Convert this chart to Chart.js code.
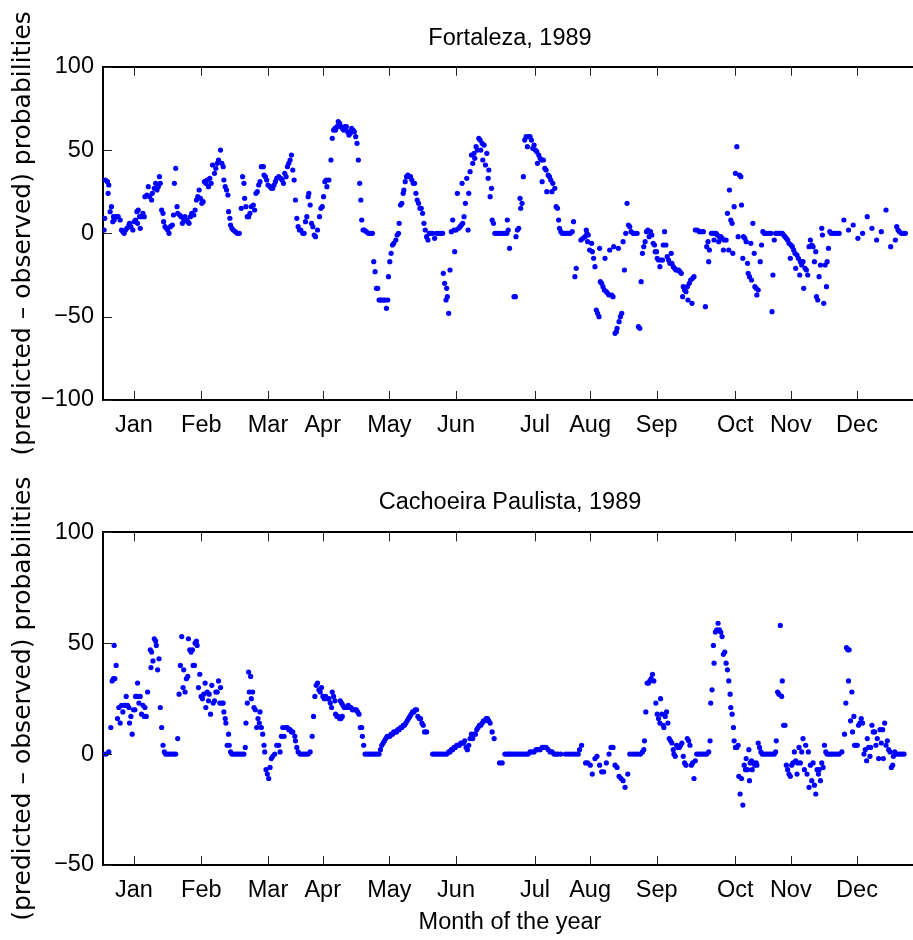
<!DOCTYPE html>
<html>
<head>
<meta charset="utf-8">
<title>Predicted - observed probabilities, 1989</title>
<script src="https://cdn.jsdelivr.net/npm/chart.js@4.4.1/dist/chart.umd.min.js"></script>
<style>
  html, body { margin: 0; padding: 0; background: #fff; overflow: hidden; }
  #wrap { position: relative; width: 913px; height: 940px; overflow: hidden; }
  canvas { position: absolute; left: 0; }
</style>
</head>
<body>
<div id="wrap">
  <canvas id="fortChart" width="930" height="460" style="top:0px;width:930px;height:460px"></canvas>
  <canvas id="cachChart" width="930" height="480" style="top:460px;width:930px;height:480px"></canvas>
</div>
<script>
// month tick positions (day index along the axis) and their labels
const monthPos = [13.9, 44.1, 74.0, 98.5, 128.4, 158.3, 193.7, 218.4, 248.3, 283.5, 308.4, 338.1];
const monthNames = ['Jan', 'Feb', 'Mar', 'Apr', 'May', 'Jun', 'Jul', 'Aug', 'Sep', 'Oct', 'Nov', 'Dec'];

const fortTicks = [-100, -50, 0, 50, 100];
const cachTicks = [-50, 0, 50, 100];

// Fortaleza, 1989: day index / (predicted - observed) probability
const fortDay = [
  0.5, 0.8, 1.1, 2.0, 2.3, 2.6, 3.2, 3.8, 4.4, 4.7,
  5.0, 5.9, 6.8, 7.7, 8.3, 8.9, 9.5, 10.1, 10.7, 11.6,
  11.9, 12.5, 13.4, 14.0, 14.6, 15.2, 15.5, 15.8, 16.4, 16.7,
  17.3, 17.9, 18.5, 18.8, 19.7, 20.3, 20.9, 21.8, 22.1, 23.0,
  23.6, 24.2, 24.8, 25.3, 25.7, 26.3, 26.9, 27.2, 27.8, 28.4,
  29.0, 29.6, 30.2, 31.1, 31.6, 32.0, 32.6, 33.2, 33.5, 34.4,
  35.0, 35.6, 36.2, 36.8, 37.4, 38.0, 38.6, 39.2, 39.8, 40.7,
  41.3, 41.9, 42.5, 43.1, 43.7, 44.3, 44.9, 45.5, 46.1, 46.7,
  47.3, 47.9, 48.5, 49.1, 50.0, 50.6, 51.2, 51.8, 52.7, 53.3,
  53.9, 54.2, 54.8, 55.4, 56.0, 56.3, 56.9, 57.2, 57.8, 58.4,
  59.3, 60.2, 61.1, 62.0, 62.6, 63.2, 63.5, 64.1, 64.7, 65.3,
  65.9, 66.5, 67.4, 68.0, 68.6, 69.2, 69.8, 70.4, 71.0, 71.9,
  72.2, 72.8, 73.4, 74.0, 74.9, 75.5, 76.1, 76.7, 77.3, 77.9,
  78.8, 79.7, 80.3, 80.9, 81.5, 82.1, 82.7, 83.3, 83.9, 84.5,
  85.1, 85.7, 86.3, 86.9, 87.5, 88.1, 88.7, 89.6, 90.2, 90.8,
  91.4, 92.0, 92.3, 92.9, 93.5, 94.1, 94.7, 95.3, 96.2, 97.1,
  97.7, 98.3, 98.9, 99.5, 100.1, 100.4, 101.3, 102.2, 102.8, 103.4,
  104.0, 104.3, 104.9, 105.5, 106.1, 106.7, 107.3, 107.9, 108.5, 109.1,
  109.7, 110.3, 110.9, 111.5, 112.1, 112.7, 113.3, 113.9, 114.5, 115.1,
  115.6, 116.0, 116.6, 117.2, 118.1, 119.0, 119.9, 120.8, 121.4, 122.0,
  122.6, 123.2, 123.8, 124.4, 125.0, 125.9, 126.5, 127.1, 127.7, 128.0,
  128.6, 129.2, 129.8, 130.4, 131.3, 131.9, 132.5, 132.8, 133.4, 134.0,
  134.6, 134.9, 135.5, 136.1, 136.7, 137.3, 137.9, 138.5, 139.1, 139.7,
  140.3, 140.9, 141.5, 142.1, 142.7, 143.3, 143.9, 144.5, 145.1, 145.7,
  146.3, 146.9, 147.8, 148.7, 149.6, 150.5, 151.4, 152.3, 152.6, 153.2,
  153.8, 154.1, 154.4, 155.0, 155.6, 156.2, 156.8, 157.4, 157.7, 158.3,
  158.9, 159.5, 160.1, 160.7, 161.0, 161.3, 161.9, 162.5, 163.1, 163.7,
  164.0, 164.6, 165.2, 165.8, 166.4, 166.7, 167.3, 167.9, 168.5, 169.1,
  169.4, 170.0, 170.3, 170.9, 171.5, 172.1, 172.7, 173.0, 173.6, 174.2,
  174.5, 175.1, 175.7, 176.6, 177.5, 178.4, 179.3, 180.2, 181.1, 181.7,
  181.3, 182.3, 184.3, 184.9, 185.2, 185.8, 186.4, 187.0, 187.3, 187.9,
  188.5, 189.1, 189.7, 190.3, 190.9, 191.5, 192.1, 192.7, 193.3, 193.9,
  194.5, 194.8, 195.4, 196.0, 196.6, 196.9, 197.5, 198.1, 198.7, 199.0,
  199.6, 200.2, 200.8, 201.3, 201.7, 202.6, 203.2, 203.8, 204.3, 204.7,
  205.3, 205.9, 206.8, 207.7, 208.6, 209.5, 210.4, 211.0, 211.6, 212.2,
  214.3, 215.2, 216.1, 216.7, 217.0, 217.3, 217.6, 218.2, 219.1, 219.4,
  220.0, 220.6, 221.2, 221.8, 222.4, 222.7, 223.0, 223.6, 224.2, 224.8,
  225.1, 225.7, 226.3, 226.9, 227.2, 228.1, 228.7, 229.0, 229.6, 230.2,
  230.5, 231.1, 231.4, 232.0, 232.6, 233.2, 233.8, 234.4, 235.0, 235.6,
  236.2, 236.8, 237.7, 238.6, 239.5, 240.1, 240.7, 241.3, 241.9, 242.5,
  243.1, 243.7, 244.3, 244.9, 245.5, 246.1, 246.7, 247.3, 247.6, 248.2,
  248.5, 249.1, 249.7, 250.3, 250.9, 251.2, 251.8, 252.4, 253.0, 253.6,
  254.2, 254.8, 255.1, 255.7, 256.3, 256.9, 257.5, 258.1, 258.7, 259.3,
  259.9, 260.2, 260.8, 261.4, 262.0, 262.3, 262.9, 263.5, 264.1, 264.4,
  265.0, 265.6, 266.5, 267.4, 268.3, 269.2, 270.1, 270.7, 271.3, 271.6,
  271.9, 272.8, 273.4, 274.0, 274.3, 274.9, 275.5, 276.1, 276.4, 277.0,
  277.6, 278.2, 278.5, 279.4, 280.0, 280.6, 280.9, 281.5, 282.1, 282.4,
  283.0, 283.6, 284.2, 284.8, 285.4, 286.0, 286.3, 286.9, 287.2, 287.8,
  288.4, 289.0, 289.3, 289.9, 290.5, 290.8, 291.4, 292.0, 292.3, 292.9,
  293.2, 293.8, 294.7, 295.3, 295.9, 296.5, 297.1, 297.7, 298.6, 299.5,
  300.0, 300.4, 301.0, 301.6, 302.2, 302.8, 303.4, 304.0, 304.6, 305.2,
  305.8, 306.4, 307.0, 307.6, 308.2, 308.5, 309.1, 309.7, 310.3, 310.6,
  311.2, 311.8, 312.4, 312.7, 313.3, 313.9, 314.2, 314.8, 315.4, 316.0,
  316.6, 317.2, 317.8, 318.4, 319.0, 319.6, 319.9, 320.5, 321.1, 321.7,
  322.3, 322.6, 323.2, 323.8, 324.4, 324.7, 325.3, 325.9, 326.5, 327.4,
  328.3, 329.2, 330.1, 332.2, 334.3, 336.4, 338.5, 340.6, 342.7, 344.8,
  346.9, 349.0, 351.1, 353.2, 355.3, 355.9, 356.5, 357.1, 358.0, 358.9,
  359.8
];
const fortDiff = [
  2, 9, 32, 31, 24, 29, 13, 16, 7, 10,
  8, 10, 10, 8, 2, 1, 0, 2, 3, 5,
  6, 4, 2, 7, 8, 13, 6, 14, 10, 3,
  10, 12, 10, 22, 23, 28, 22, 20, 24, 27,
  30, 26, 28, 34, 30, 14, 12, 7, 4, 3,
  2, 0, 4, 5, 11, 30, 39, 16, 12, 11,
  10, 6, 8, 10, 8, 7, 6, 10, 12, 11,
  14, 20, 22, 26, 21, 18, 19, 31, 30, 32,
  28, 33, 30, 41, 36, 39, 42, 44, 50, 42,
  40, 32, 28, 26, 23, 13, 9, 5, 3, 2,
  1, 0, 0, 15, 34, 30, 21, 16, 10, 10,
  12, 16, 17, 14, 24, 25, 29, 31, 40, 40,
  35, 34, 32, 29, 28, 27, 27, 29, 31, 33,
  34, 33, 32, 30, 36, 34, 40, 42, 44, 47,
  38, 32, 20, 9, 4, 2, 2, 0, 0, 7,
  10, 22, 24, 17, 6, 4, -1, -2, 2, 10,
  15, 16, 22, 31, 32, 28, 32, 44, 57, 62,
  63, 62, 64, 67, 66, 64, 63, 62, 64, 64,
  61, 59, 60, 63, 62, 61, 58, 54, 44, 30,
  20, 8, 2, 2, 1, 0, 0, 0, -17, -23,
  -33, -33, -40, -40, -40, -40, -40, -45, -40, -26,
  -17, -12, -7, -6, -4, -1, 0, 6, 17, 18,
  24, 26, 31, 34, 35, 34, 34, 32, 30, 30,
  24, 20, 18, 15, 15, 12, 6, 2, -2, -4,
  0, 0, 0, -3, 0, 0, 0, 0, -24, -30,
  -40, -33, -38, -48, -22, 1, 8, 2, -11, 2,
  24, 3, 4, 5, 30, 6, 10, 18, 33, 2,
  24, 37, 47, 42, 48, 45, 52, 50, 57, 56,
  50, 54, 44, 53, 41, 48, 33, 38, 22, 27,
  8, 6, 0, 0, 0, 0, 0, 0, 0, 2,
  8, -9, -38, -38, -2, 2, 3, 21, 15, 18,
  34, 56, 58, 52, 58, 58, 56, 51, 53, 50,
  49, 42, 47, 45, 44, 31, 44, 39, 38, 25,
  35, 34, 32, 25, 30, 27, 16, 15, 8, 3,
  1, 0, 0, 0, 0, 0, 1, 7, -26, -21,
  -4, -3, -2, 2, 0, -5, -1, -10, -6, -11,
  -15, -20, -46, -48, -50, -9, -29, -30, -32, -34,
  -15, -35, -36, -37, -10, -37, -38, -8, -60, -59,
  -57, -9, -53, -50, -48, -5, -22, 0, 18, 5,
  4, 1, 0, 0, 0, -56, -57, -29, -12, -8,
  -5, 1, 2, -2, 1, -1, -6, -7, -11, -11,
  -15, -16, -20, -16, -16, -7, 1, -7, -14, -16,
  -18, -12, -18, -20, -21, -22, -22, -22, -23, -24,
  -38, -32, -34, -35, -32, -40, -30, -28, -42, -27,
  -26, 2, 2, 1, 1, 1, -44, -8, -5, -17,
  -10, 0, 0, -4, 0, 0, -1, -5, -2, -2,
  -3, -10, -4, -4, 12, -10, 26, 8, 6, -12,
  16, 36, 52, -2, 35, 34, 17, -15, -2, -3,
  -5, -18, -24, -26, -6, -28, 6, -12, -32, -33,
  -37, -34, -17, -7, 1, 0, 0, 0, 0, 0,
  -47, -25, -4, 0, 0, 0, 0, 0, 0, -1,
  -2, -3, -4, -6, -15, -7, -8, -10, -12, -21,
  -13, -15, -25, -17, -19, -17, -33, -21, -22, -25,
  -8, -4, -7, -8, -17, -11, -38, -40, -26, -19,
  3, -1, -42, -19, -32, -17, -9, 1, 0, 0,
  0, 0, 0, 8, 2, 5, -3, 0, 10, 3,
  -4, 1, 14, -8, -4, 4, 2, 1, 0, 0,
  0
];

// Cachoeira Paulista, 1989: day index / (predicted - observed) probability
const cachDay = [
  0.2, 1.4, 2.6, 3.5, 4.1, 4.7, 5.0, 5.3, 5.9, 6.5,
  7.1, 7.7, 8.3, 8.9, 9.5, 10.1, 10.4, 11.0, 11.6, 11.9,
  12.5, 13.1, 13.7, 14.3, 14.6, 15.2, 15.5, 16.1, 16.7, 17.3,
  17.9, 18.5, 18.8, 19.4, 20.0, 21.2, 21.5, 21.8, 22.4, 23.0,
  23.6, 23.9, 24.5, 25.1, 25.7, 26.3, 26.9, 27.5, 28.1, 29.0,
  29.9, 30.8, 31.7, 32.6, 33.5, 34.1, 34.7, 35.3, 35.9, 36.2,
  36.8, 37.4, 38.0, 38.3, 38.9, 39.5, 40.1, 40.4, 41.0, 41.3,
  41.9, 42.2, 42.8, 43.4, 44.0, 44.6, 45.2, 45.8, 46.1, 46.7,
  47.3, 47.6, 48.2, 48.8, 49.4, 50.0, 50.6, 51.2, 51.8, 52.4,
  52.7, 53.3, 53.9, 54.2, 54.8, 55.1, 55.7, 56.3, 56.6, 57.2,
  57.8, 58.7, 59.6, 60.5, 61.4, 62.3, 63.2, 63.8, 64.1, 64.7,
  65.3, 65.6, 66.2, 66.5, 67.1, 67.7, 68.3, 68.9, 69.5, 70.1,
  70.4, 71.0, 71.6, 72.2, 72.5, 73.1, 73.7, 74.3, 74.9, 75.5,
  76.1, 77.0, 77.9, 78.8, 79.4, 80.0, 80.6, 81.2, 81.8, 82.7,
  83.3, 83.9, 84.5, 85.1, 86.0, 86.3, 86.9, 87.5, 88.4, 89.3,
  90.2, 91.1, 92.0, 92.9, 93.8, 94.4, 95.0, 95.6, 96.2, 96.8,
  97.4, 98.0, 98.6, 99.2, 99.8, 100.4, 101.3, 101.9, 102.5, 102.8,
  103.4, 104.0, 104.3, 104.9, 105.5, 106.1, 106.4, 106.7, 107.0, 107.3,
  107.6, 108.2, 108.8, 109.4, 110.0, 110.6, 111.2, 111.8, 112.4, 113.0,
  113.6, 114.2, 114.8, 115.4, 116.0, 116.3, 116.9, 117.5, 118.4, 119.3,
  120.2, 121.1, 122.0, 122.9, 123.8, 124.4, 125.0, 125.6, 126.2, 126.8,
  127.4, 128.0, 128.6, 129.2, 129.8, 130.4, 131.0, 131.6, 132.2, 132.8,
  133.4, 134.0, 134.6, 135.2, 135.8, 136.4, 137.0, 137.6, 138.2, 138.8,
  139.4, 140.0, 140.6, 141.2, 141.8, 142.4, 143.0, 143.6, 144.2, 145.1,
  147.8, 148.7, 149.6, 150.5, 151.4, 152.3, 153.2, 154.1, 155.0, 155.6,
  156.2, 156.8, 157.4, 158.0, 158.6, 159.2, 159.8, 160.4, 161.0, 161.6,
  162.2, 162.8, 163.4, 164.0, 164.6, 165.2, 165.8, 166.4, 167.0, 167.6,
  168.2, 168.8, 169.4, 170.0, 170.6, 171.2, 171.8, 172.4, 173.0, 173.6,
  174.5, 175.4, 177.8, 179.0, 180.2, 181.1, 182.0, 182.5, 183.4, 184.3,
  185.2, 186.1, 187.0, 187.9, 188.8, 189.7, 190.6, 191.5, 192.4, 193.3,
  194.2, 195.1, 196.0, 196.9, 197.8, 198.7, 199.6, 200.5, 201.4, 202.3,
  203.2, 204.1, 205.3, 207.4, 208.6, 209.8, 211.0, 212.2, 213.1, 213.7,
  214.6, 216.4, 217.3, 218.5, 219.4, 220.6, 221.5, 222.7, 223.6, 224.5,
  225.7, 226.9, 227.8, 228.7, 229.6, 230.5, 231.4, 232.3, 233.2, 234.1,
  235.3, 236.2, 237.4, 238.6, 239.8, 241.0, 241.9, 242.5, 242.8, 243.4,
  244.0, 244.6, 245.2, 245.8, 246.4, 247.0, 247.9, 248.5, 249.1, 249.7,
  250.0, 250.6, 251.2, 251.5, 252.1, 252.7, 253.3, 253.9, 254.5, 255.1,
  255.7, 256.0, 256.6, 257.2, 257.8, 258.4, 259.0, 259.6, 260.2, 260.8,
  261.4, 262.0, 262.6, 263.2, 263.8, 264.4, 265.0, 265.6, 266.2, 267.1,
  268.0, 268.9, 269.8, 270.7, 271.6, 272.2, 272.5, 273.1, 273.7, 274.0,
  274.6, 275.2, 275.8, 276.4, 277.0, 277.6, 278.2, 278.8, 279.4, 280.0,
  280.6, 281.2, 281.5, 282.1, 282.7, 283.0, 283.6, 284.2, 284.8, 285.1,
  285.7, 286.3, 286.9, 287.5, 288.1, 288.4, 289.0, 289.6, 289.9, 290.2,
  290.8, 291.1, 291.7, 292.3, 292.9, 293.2, 293.8, 294.4, 295.0, 295.6,
  296.5, 297.4, 298.3, 299.2, 300.1, 301.0, 301.6, 301.9, 302.5, 303.1,
  303.7, 304.3, 304.6, 305.2, 305.8, 306.4, 307.0, 307.6, 308.2, 308.8,
  309.4, 310.0, 310.6, 311.2, 311.5, 312.1, 312.7, 313.3, 313.9, 314.5,
  315.1, 315.7, 316.3, 316.6, 317.2, 317.8, 318.4, 319.0, 319.6, 320.2,
  320.8, 321.1, 321.7, 322.3, 322.9, 323.5, 324.1, 324.7, 325.6, 326.5,
  327.4, 328.3, 329.2, 330.1, 331.3, 332.5, 333.1, 333.4, 334.0, 334.6,
  334.3, 335.2, 335.8, 336.1, 336.7, 337.0, 337.6, 338.2, 338.8, 339.4,
  340.0, 340.6, 341.2, 341.8, 342.4, 342.7, 343.3, 343.9, 344.2, 344.8,
  345.4, 346.0, 346.6, 347.2, 347.8, 348.4, 349.0, 349.6, 349.9, 350.5,
  351.1, 351.7, 352.3, 352.9, 353.5, 354.1, 354.4, 355.0, 355.6, 356.5,
  357.4, 358.3, 359.2
];
const cachDiff = [
  0, 0, 1, 12, 33, 34, 49, 34, 40, 16,
  21, 14, 22, 19, 22, 22, 26, 22, 21, 14,
  17, 9, 20, 20, 26, 26, 32, 23, 26, 18,
  22, 17, 21, 17, 28, 47, 39, 46, 42, 52,
  51, 49, 38, 43, 21, 12, 4, 1, 0, 0,
  0, 0, 0, 0, 7, 27, 40, 53, 30, 38,
  28, 34, 35, 52, 47, 46, 47, 40, 40, 50,
  51, 49, 30, 36, 26, 25, 27, 32, 21, 28,
  24, 27, 18, 31, 23, 24, 28, 28, 33, 23,
  30, 23, 23, 19, 16, 14, 4, 9, 4, 1,
  0, 0, 0, 0, 0, 0, 0, 3, 14, 23,
  37, 28, 35, 25, 28, 21, 20, 12, 16, 14,
  19, 12, 9, 4, 1, -7, -9, -11, -6, -2,
  -1, 0, 4, 4, 1, 8, 12, 8, 12, 12,
  11, 11, 10, 10, 8, 6, 3, 1, 0, 0,
  0, 0, 0, 1, 8, 17, 26, 31, 32, 29,
  28, 30, 26, 25, 26, 25, 25, 23, 21, 28,
  26, 24, 18, 17, 17, 16, 24, 16, 23, 17,
  22, 21, 21, 21, 22, 21, 21, 20, 20, 20,
  20, 19, 18, 12, 12, 8, 4, 0, 0, 0,
  0, 0, 0, 0, 0, 2, 4, 5, 6, 7,
  8, 8, 8, 9, 9, 10, 10, 10, 11, 11,
  12, 12, 13, 13, 14, 15, 16, 17, 18, 19,
  19, 20, 20, 17, 16, 16, 14, 13, 10, 10,
  0, 0, 0, 0, 0, 0, 0, 0, 1, 1,
  2, 2, 3, 3, 4, 4, 4, 5, 5, 5,
  6, 3, 2, 4, 7, 9, 7, 9, 9, 11,
  12, 13, 13, 14, 15, 15, 16, 16, 15, 14,
  10, 7, -4, -4, 0, 0, 0, 0, 0, 0,
  0, 0, 0, 0, 0, 0, 0, 1, 1, 1,
  2, 2, 2, 3, 3, 3, 2, 1, 1, 0,
  0, 0, 0, 0, 0, 0, 0, 0, 0, 2,
  4, -4, -4, -5, -9, -2, -1, -5, -8, -8,
  -4, 0, 3, 3, -5, -6, -10, -11, -12, -15,
  -9, 0, 0, 0, 0, 0, 1, 2, 6, 19,
  32, 32, 33, 34, 36, 33, 23, 18, 16, 14,
  25, 18, 13, 12, 17, 19, 14, 7, 6, 5,
  2, 0, -1, 4, 3, 3, 4, 5, -1, -4,
  -5, 7, 6, 4, -5, -4, -11, -3, 0, 0,
  0, 0, 0, 0, 1, 6, 23, 29, 49, 41,
  55, 56, 59, 56, 55, 53, 45, 46, 41, 38,
  33, 27, 21, 18, 12, 6, 3, 3, 4, -10,
  -18, -11, -23, -5, -7, -2, -7, 2, -12, -4,
  -3, -7, -4, -5, -4, -5, 5, 3, 1, 0,
  0, 0, 0, 0, 0, 0, 1, 6, 28, 27,
  58, 26, 33, 13, 13, -5, -7, -9, -10, -5,
  -4, 1, -3, -9, -4, 3, -4, 1, 7, -7,
  4, -9, 1, -15, -5, -12, -4, -14, -18, -7,
  -9, -7, -12, -4, -6, 4, 1, 0, 0, 0,
  0, 0, 0, 0, 1, 9, 23, 48, 47, 47,
  33, 15, 28, 10, 17, 4, 4, 4, 13, 14,
  16, 14, 0, 2, -3, 7, 3, -1, 3, 13,
  10, 10, 4, 7, -2, 11, 5, 11, -2, 14,
  4, 6, 2, 1, -6, -5, -1, 1, 0, 0,
  0, 0, 0
];

const SANS = '"Liberation Sans", Arial, Helvetica, sans-serif';
const WIDE = '"DejaVu Sans", Verdana, sans-serif';
const FS = 23.5;

// MATLAB style ticks pointing into the axes box
const inwardTicks = {
    id: 'inwardTicks',
    afterDatasetsDraw(chart) {
        const {ctx, chartArea: a, scales} = chart;
        ctx.save();
        ctx.strokeStyle = '#222';
        ctx.lineWidth = 1;
        ctx.beginPath();
        monthPos.forEach(v => {
            const x = Math.round(scales.x.getPixelForValue(v)) + 0.5;
            ctx.moveTo(x, a.bottom);
            ctx.lineTo(x, a.bottom - 9);
            ctx.moveTo(x, a.top);
            ctx.lineTo(x, a.top + 9);
        });
        scales.y.ticks.forEach(t => {
            const y = Math.round(scales.y.getPixelForValue(t.value)) + 0.5;
            ctx.moveTo(a.left, y);
            ctx.lineTo(a.left + 9, y);
        });
        ctx.stroke();
        ctx.restore();
    }
};

function makePanel(canvasId, days, diffs, yTicks, title, opts) {
    if (days.length !== diffs.length) console.warn(canvasId, 'length mismatch', days.length, diffs.length);
    const border = { display: true, color: '#000', width: 2 };
    return new Chart(document.getElementById(canvasId), {
        type: 'scatter',
        data: {
            datasets: [{
                data: days.map((d, i) => ({x: d, y: diffs[i]})),
                xAxisID: 'x',
                yAxisID: 'y',
                pointRadius: 2.6,
                pointBorderWidth: 0,
                backgroundColor: '#0000ff',
                borderColor: '#0000ff'
            }]
        },
        options: {
            responsive: false,
            animation: false,
            events: [],
            layout: { padding: { left: 0, right: 13, top: 0, bottom: 0 } },
            plugins: { legend: { display: false }, tooltip: { enabled: false }, title: { display: false } },
            scales: {
                x: {
                    type: 'linear', position: 'bottom', min: 0, max: 365,
                    afterBuildTicks: s => { s.ticks = monthPos.map(v => ({value: v})); },
                    afterFit: s => { s.height = opts.bottomH; },
                    grid: { display: false, drawTicks: false },
                    border: border,
                    ticks: {
                        autoSkip: false, maxRotation: 0, minRotation: 0, padding: 11, color: '#000',
                        font: { family: SANS, size: FS },
                        callback: (v, i) => monthNames[i]
                    },
                    title: {
                        display: !!opts.xTitle, text: opts.xTitle || '', color: '#000',
                        font: { family: SANS, size: FS }, padding: { top: 0, bottom: 3 }
                    }
                },
                xTop: {
                    type: 'linear', position: 'top', min: 0, max: 365,
                    afterFit: s => { s.height = opts.topH; },
                    grid: { display: false, drawTicks: false },
                    border: border,
                    ticks: { display: false },
                    title: {
                        display: true, text: title, color: '#000',
                        font: { family: SANS, size: FS }, padding: { top: opts.titlePad, bottom: 0 }
                    }
                },
                y: {
                    min: yTicks[0], max: yTicks[yTicks.length - 1],
                    afterBuildTicks: s => { s.ticks = yTicks.map(v => ({value: v})); },
                    afterFit: s => { s.width = 103; },
                    grid: { display: false, drawTicks: false },
                    border: border,
                    ticks: {
                        padding: 9, color: '#000',
                        font: { family: SANS, size: FS },
                        callback: v => v < 0 ? '\u2212' + (-v) : String(v)
                    },
                    title: {
                        display: true, text: '(predicted \u2013 observed) probabilities', color: '#000',
                        font: { family: WIDE, size: 25 }, padding: { top: 8, bottom: 0 }
                    }
                }
            }
        },
        plugins: [inwardTicks]
    });
}

makePanel('fortChart', fortDay, fortDiff, fortTicks, 'Fortaleza, 1989',
    { topH: 66.7, bottomH: 60, titlePad: 24 });
makePanel('cachChart', cachDay, cachDiff, cachTicks, 'Cachoeira Paulista, 1989',
    { topH: 72.3, bottomH: 75, titlePad: 28, xTitle: 'Month of the year' });
</script>
</body>
</html>
